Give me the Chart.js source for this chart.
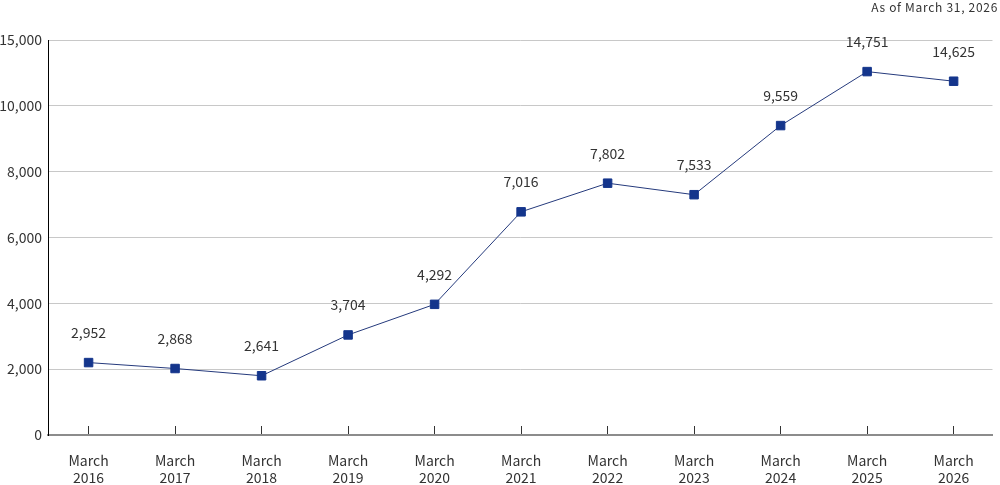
<!DOCTYPE html>
<html>
<head>
<meta charset="utf-8">
<script src="https://cdn.jsdelivr.net/npm/chart.js@4.4.1/dist/chart.umd.min.js"></script>
<style>
  html, body { margin: 0; padding: 0; background: #fff; }
  #wrap { width: 1000px; height: 485px; }
</style>
</head>
<body>
<div id="wrap"><canvas id="myChart"></canvas></div>
<script>
// Data
const categories = ['March 2016', 'March 2017', 'March 2018', 'March 2019', 'March 2020', 'March 2021',
  'March 2022', 'March 2023', 'March 2024', 'March 2025', 'March 2026'];
// numbers printed above each marker
const shownValues = [2952, 2868, 2641, 3704, 4292, 7016, 7802, 7533, 9559, 14751, 14625];
// where each marker sits when read against the printed axis
const plottedAt = [2200, 2020, 1800, 3040, 3970, 6780, 7650, 7300, 9400, 12600, 11870];
// axis tick labels (evenly spaced in the picture)
const yTicks = [0, 2000, 4000, 6000, 8000, 10000, 15000];
const asOf = 'As of March 31, 2026';

const FONT = '"Noto Sans CJK JP", "Noto Sans", sans-serif';
const fmt = v => v.toLocaleString('en-US');

// value -> position between the evenly spaced ticks
function toGrid(v) {
  for (let i = 1; i < yTicks.length; i++) {
    if (v <= yTicks[i]) return i - 1 + (v - yTicks[i - 1]) / (yTicks[i] - yTicks[i - 1]);
  }
  return yTicks.length - 1;
}

// Value labels above the markers + "as of" note
const pointLabels = {
  id: 'pointLabels',
  afterDatasetsDraw(chart) {
    const { ctx } = chart;
    const meta = chart.getDatasetMeta(0);
    ctx.save();
    ctx.font = '14px ' + FONT;
    ctx.fillStyle = '#333';
    ctx.textAlign = 'center';
    ctx.textBaseline = 'middle';
    meta.data.forEach((pt, i) => {
      ctx.fillText(fmt(shownValues[i]), pt.x, pt.y - 30);
    });

    ctx.font = '12px ' + FONT;
    ctx.letterSpacing = '0.7px';
    ctx.textAlign = 'right';
    ctx.fillText(asOf, chart.width - 2, 7);
    ctx.restore();
  }
};

const ctx = document.getElementById('myChart').getContext('2d');
const myChart = new Chart(ctx, {
  type: 'line',
  data: {
    datasets: [{
      data: plottedAt.map((v, i) => ({ x: i, y: toGrid(v) })),
      borderColor: '#253a7c',
      borderWidth: 1,
      pointStyle: 'rect',
      pointRadius: 6,
      pointBorderWidth: 1,
      pointBackgroundColor: '#14358c',
      pointBorderColor: '#14358c',
      tension: 0,
      clip: false
    }]
  },
  options: {
    responsive: true,
    maintainAspectRatio: false,
    animation: false,
    layout: { padding: { left: 0, right: 2, top: 40, bottom: 0 } },
    plugins: {
      legend: { display: false },
      tooltip: { enabled: false }
    },
    scales: {
      x: {
        type: 'linear',
        min: -0.469,
        max: 10.449,
        afterBuildTicks: s => { s.ticks = categories.map((c, i) => ({ value: i })); },
        afterFit: s => { s.height = 50; },
        grid: { drawOnChartArea: false, drawTicks: true, tickLength: -9, tickColor: '#333', tickWidth: 1 },
        border: { color: '#8c8c8c', width: 2 },
        ticks: {
          padding: 26,
          maxRotation: 0,
          autoSkip: false,
          color: '#333',
          font: { family: FONT, size: 14, lineHeight: 1.2 },
          callback: v => categories[v] ? categories[v].split(' ') : ''
        }
      },
      y: {
        min: 0,
        max: yTicks.length - 1,
        afterBuildTicks: s => { s.ticks = yTicks.map((t, i) => ({ value: i })); },
        afterFit: s => { s.width = 48; },
        grid: { color: '#c8c8c8', lineWidth: 1, drawTicks: false },
        border: { color: '#000', width: 1 },
        ticks: {
          padding: 6,
          color: '#333',
          font: { family: FONT, size: 14 },
          callback: v => fmt(yTicks[v])
        }
      }
    }
  },
  plugins: [pointLabels]
});
</script>
</body>
</html>
